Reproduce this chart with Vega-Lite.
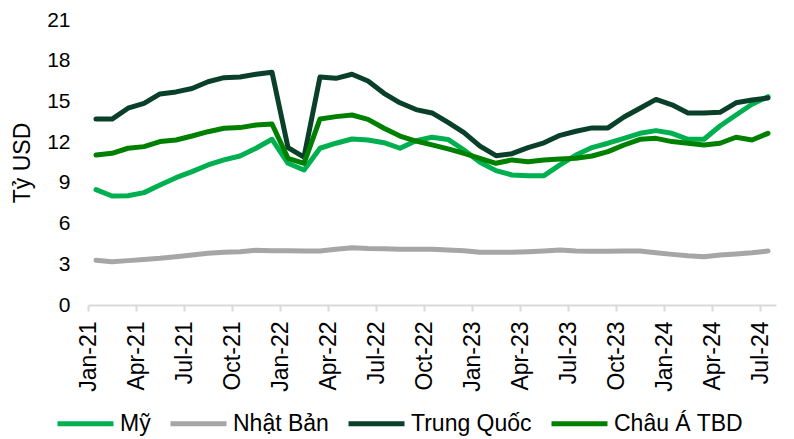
{
  "$schema": "https://vega.github.io/schema/vega-lite/v6.json",
  "width": 688,
  "height": 285,
  "autosize": {"type": "none"},
  "padding": {"left": 88, "top": 20, "right": 18, "bottom": 134},
  "background": "white",
  "config": {
    "view": {"stroke": null},
    "font": "Liberation Sans"
  },
  "data": {
    "values": [
      {"m": "Jan-21", "Mỹ": 8.5, "Nhật Bản": 3.3, "Trung Quốc": 13.7, "Châu Á TBD": 11.05},
      {"m": "Feb-21", "Mỹ": 8.03, "Nhật Bản": 3.19, "Trung Quốc": 13.7, "Châu Á TBD": 11.18},
      {"m": "Mar-21", "Mỹ": 8.05, "Nhật Bản": 3.27, "Trung Quốc": 14.5, "Châu Á TBD": 11.55},
      {"m": "Apr-21", "Mỹ": 8.28, "Nhật Bản": 3.35, "Trung Quốc": 14.85, "Châu Á TBD": 11.67},
      {"m": "May-21", "Mỹ": 8.84, "Nhật Bản": 3.44, "Trung Quốc": 15.55, "Châu Á TBD": 12.04},
      {"m": "Jun-21", "Mỹ": 9.38, "Nhật Bản": 3.56, "Trung Quốc": 15.7, "Châu Á TBD": 12.16},
      {"m": "Jul-21", "Mỹ": 9.83, "Nhật Bản": 3.68, "Trung Quốc": 15.95, "Châu Á TBD": 12.45},
      {"m": "Aug-21", "Mỹ": 10.32, "Nhật Bản": 3.81, "Trung Quốc": 16.45, "Châu Á TBD": 12.77},
      {"m": "Sep-21", "Mỹ": 10.69, "Nhật Bản": 3.88, "Trung Quốc": 16.75, "Châu Á TBD": 13.02},
      {"m": "Oct-21", "Mỹ": 10.98, "Nhật Bản": 3.93, "Trung Quốc": 16.8, "Châu Á TBD": 13.07},
      {"m": "Nov-21", "Mỹ": 11.55, "Nhật Bản": 4.03, "Trung Quốc": 17.0, "Châu Á TBD": 13.26},
      {"m": "Dec-21", "Mỹ": 12.21, "Nhật Bản": 4.0, "Trung Quốc": 17.15, "Châu Á TBD": 13.34},
      {"m": "Jan-22", "Mỹ": 10.44, "Nhật Bản": 4.0, "Trung Quốc": 11.6, "Châu Á TBD": 10.81},
      {"m": "Feb-22", "Mỹ": 9.95, "Nhật Bản": 3.98, "Trung Quốc": 10.9, "Châu Á TBD": 10.44},
      {"m": "Mar-22", "Mỹ": 11.55, "Nhật Bản": 3.98, "Trung Quốc": 16.8, "Châu Á TBD": 13.71},
      {"m": "Apr-22", "Mỹ": 11.92, "Nhật Bản": 4.1, "Trung Quốc": 16.7, "Châu Á TBD": 13.88},
      {"m": "May-22", "Mỹ": 12.23, "Nhật Bản": 4.22, "Trung Quốc": 17.0, "Châu Á TBD": 14.0},
      {"m": "Jun-22", "Mỹ": 12.16, "Nhật Bản": 4.17, "Trung Quốc": 16.5, "Châu Á TBD": 13.68},
      {"m": "Jul-22", "Mỹ": 11.96, "Nhật Bản": 4.15, "Trung Quốc": 15.6, "Châu Á TBD": 13.02},
      {"m": "Aug-22", "Mỹ": 11.55, "Nhật Bản": 4.1, "Trung Quốc": 14.9, "Châu Á TBD": 12.45},
      {"m": "Sep-22", "Mỹ": 12.1, "Nhật Bản": 4.1, "Trung Quốc": 14.4, "Châu Á TBD": 12.08},
      {"m": "Oct-22", "Mỹ": 12.36, "Nhật Bản": 4.1, "Trung Quốc": 14.15, "Châu Á TBD": 11.8},
      {"m": "Nov-22", "Mỹ": 12.2, "Nhật Bản": 4.05, "Trung Quốc": 13.45, "Châu Á TBD": 11.5},
      {"m": "Dec-22", "Mỹ": 11.42, "Nhật Bản": 4.0, "Trung Quốc": 12.7, "Châu Á TBD": 11.18},
      {"m": "Jan-23", "Mỹ": 10.52, "Nhật Bản": 3.88, "Trung Quốc": 11.7, "Châu Á TBD": 10.81},
      {"m": "Feb-23", "Mỹ": 9.9, "Nhật Bản": 3.88, "Trung Quốc": 11.0, "Châu Á TBD": 10.44},
      {"m": "Mar-23", "Mỹ": 9.58, "Nhật Bản": 3.88, "Trung Quốc": 11.15, "Châu Á TBD": 10.69},
      {"m": "Apr-23", "Mỹ": 9.53, "Nhật Bản": 3.93, "Trung Quốc": 11.6, "Châu Á TBD": 10.56},
      {"m": "May-23", "Mỹ": 9.53, "Nhật Bản": 3.98, "Trung Quốc": 11.95, "Châu Á TBD": 10.69},
      {"m": "Jun-23", "Mỹ": 10.32, "Nhật Bản": 4.05, "Trung Quốc": 12.5, "Châu Á TBD": 10.76},
      {"m": "Jul-23", "Mỹ": 11.05, "Nhật Bản": 3.98, "Trung Quốc": 12.8, "Châu Á TBD": 10.81},
      {"m": "Aug-23", "Mỹ": 11.6, "Nhật Bản": 3.96, "Trung Quốc": 13.05, "Châu Á TBD": 10.98},
      {"m": "Sep-23", "Mỹ": 11.92, "Nhật Bản": 3.96, "Trung Quốc": 13.05, "Châu Á TBD": 11.3},
      {"m": "Oct-23", "Mỹ": 12.28, "Nhật Bản": 3.98, "Trung Quốc": 13.85, "Châu Á TBD": 11.79},
      {"m": "Nov-23", "Mỹ": 12.65, "Nhật Bản": 3.98, "Trung Quốc": 14.5, "Châu Á TBD": 12.21},
      {"m": "Dec-23", "Mỹ": 12.85, "Nhật Bản": 3.85, "Trung Quốc": 15.15, "Châu Á TBD": 12.28},
      {"m": "Jan-24", "Mỹ": 12.65, "Nhật Bản": 3.73, "Trung Quốc": 14.75, "Châu Á TBD": 12.04},
      {"m": "Feb-24", "Mỹ": 12.21, "Nhật Bản": 3.63, "Trung Quốc": 14.15, "Châu Á TBD": 11.92},
      {"m": "Mar-24", "Mỹ": 12.21, "Nhật Bản": 3.56, "Trung Quốc": 14.15, "Châu Á TBD": 11.79},
      {"m": "Apr-24", "Mỹ": 13.19, "Nhật Bản": 3.68, "Trung Quốc": 14.2, "Châu Á TBD": 11.92},
      {"m": "May-24", "Mỹ": 14.0, "Nhật Bản": 3.76, "Trung Quốc": 14.9, "Châu Á TBD": 12.36},
      {"m": "Jun-24", "Mỹ": 14.79, "Nhật Bản": 3.85, "Trung Quốc": 15.1, "Châu Á TBD": 12.16},
      {"m": "Jul-24", "Mỹ": 15.35, "Nhật Bản": 3.98, "Trung Quốc": 15.25, "Châu Á TBD": 12.65}
    ]
  },
  "transform": [
    {"fold": ["Mỹ", "Nhật Bản", "Trung Quốc", "Châu Á TBD"], "as": ["series", "value"]}
  ],
  "mark": {"type": "line", "strokeWidth": 5, "strokeCap": "round", "strokeJoin": "round"},
  "encoding": {
    "x": {
      "field": "m",
      "type": "ordinal",
      "sort": null,
      "scale": {"type": "point", "padding": 0.5},
      "axis": {
        "title": null,
        "values": ["Jan-21", "Apr-21", "Jul-21", "Oct-21", "Jan-22", "Apr-22", "Jul-22", "Oct-22", "Jan-23", "Apr-23", "Jul-23", "Oct-23", "Jan-24", "Apr-24", "Jul-24"],
        "labelAngle": -90,
        "labelFontSize": 23,
        "labelColor": "#000000",
        "labelPadding": 10,
        "tickOffset": -8,
        "tickSize": 6,
        "tickColor": "#d9d9d9",
        "tickWidth": 2,
        "domainColor": "#d9d9d9",
        "domainWidth": 2,
        "grid": false
      }
    },
    "y": {
      "field": "value",
      "type": "quantitative",
      "scale": {"domain": [0, 21], "nice": false, "zero": true},
      "axis": {
        "title": "Tỷ USD",
        "titleFontSize": 23,
        "titleFontWeight": "normal",
        "titleColor": "#000000",
        "titlePadding": 12,
        "values": [0, 3, 6, 9, 12, 15, 18, 21],
        "labelFontSize": 21,
        "labelColor": "#000000",
        "labelPadding": 18,
        "domain": false,
        "ticks": false,
        "grid": false
      }
    },
    "color": {
      "field": "series",
      "type": "nominal",
      "scale": {
        "domain": ["Mỹ", "Nhật Bản", "Trung Quốc", "Châu Á TBD"],
        "range": ["#00b050", "#a6a6a6", "#0a4029", "#008000"]
      },
      "legend": {
        "title": null,
        "orient": "none",
        "direction": "horizontal",
        "legendX": -33,
        "legendY": 373,
        "padding": 0,
        "symbolType": "stroke",
        "symbolSize": 3136,
        "symbolStrokeWidth": 5,
        "labelFontSize": 23,
        "labelColor": "#000000",
        "labelOffset": 4,
        "labelLimit": 300,
        "columnPadding": 9
      }
    }
  }
}
